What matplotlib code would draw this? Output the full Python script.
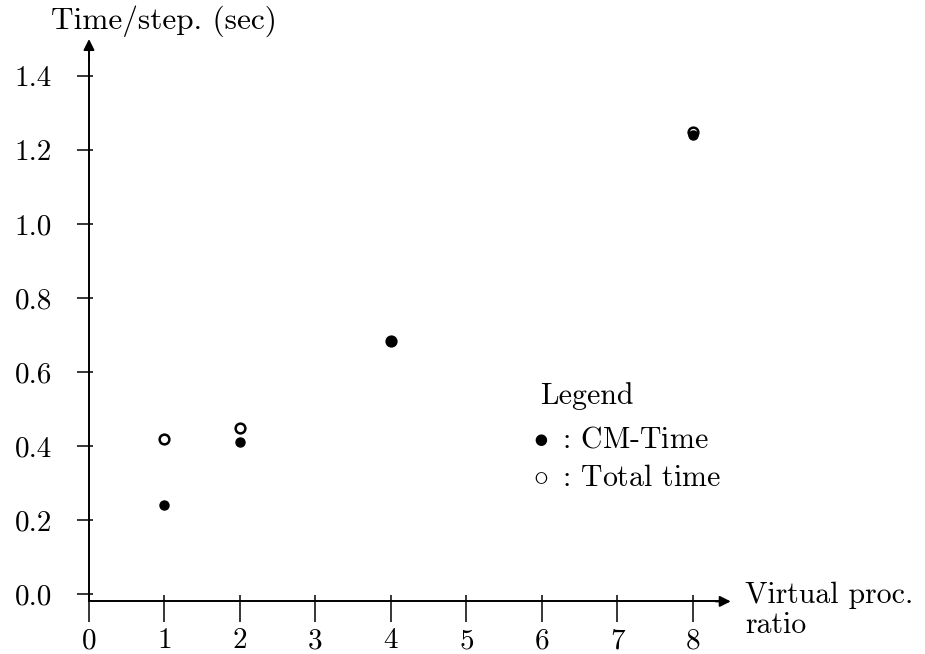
import matplotlib
matplotlib.use("Agg")
import matplotlib.pyplot as plt
from matplotlib.ticker import FixedLocator

plt.rcParams['font.family'] = ['cmr10', 'DejaVu Serif']
plt.rcParams['mathtext.fontset'] = 'cm'
plt.rcParams['axes.unicode_minus'] = False
plt.rcParams['axes.formatter.use_mathtext'] = True

# data
ratio_cm = [1, 2, 4, 8]
cm_time = [0.24, 0.41, 0.685, 1.24]
ratio_total = [1, 2, 4, 8]
total_time = [0.42, 0.45, 0.685, 1.25]
x_ticks = [0, 1, 2, 3, 4, 5, 6, 7, 8]
y_ticks = [0.0, 0.2, 0.4, 0.6, 0.8, 1.0, 1.2, 1.4]
y_ticklabels = ["0.0", "0.2", "0.4", "0.6", "0.8", "1.0", "1.2", "1.4"]

FS = 21

fig = plt.figure(figsize=(9.25, 6.54), dpi=100)
ax = fig.add_axes([0.08805, 0.06346, 0.7101, 0.8882])
ax.set_xlim(-0.1, 8.6)
ax.set_ylim(-0.05, 1.52)

for s in ['top', 'right']:
    ax.spines[s].set_visible(False)
ax.spines['left'].set_position(('data', 0))
ax.spines['bottom'].set_position(('data', -0.02))
ax.spines['left'].set_bounds(-0.02, 1.47)
ax.spines['bottom'].set_bounds(0, 8.35)
for s in ['left', 'bottom']:
    ax.spines[s].set_linewidth(1.4)

# arrow heads
ax.annotate('', xy=(8.5, -0.02), xytext=(8.3, -0.02),
            arrowprops=dict(arrowstyle='-|>', color='black', lw=1.4,
                            mutation_scale=16, shrinkA=0, shrinkB=0))
ax.annotate('', xy=(0, 1.50), xytext=(0, 1.44),
            arrowprops=dict(arrowstyle='-|>', color='black', lw=1.4,
                            mutation_scale=16, shrinkA=0, shrinkB=0))

ax.set_xticks(x_ticks)
ax.set_xticklabels([str(v) for v in x_ticks])
ax.xaxis.set_minor_locator(FixedLocator(x_ticks))
ax.xaxis.remove_overlapping_locs = False
ax.tick_params(axis='x', which='major', direction='out', length=15, width=1.1,
               labelsize=FS, pad=4)
ax.tick_params(axis='x', which='minor', direction='in', length=4.5, width=1.1)

ax.set_yticks(y_ticks)
ax.set_yticklabels(y_ticklabels)
ax.yaxis.set_minor_locator(FixedLocator(y_ticks))
ax.yaxis.remove_overlapping_locs = False
ax.tick_params(axis='y', which='major', direction='out', length=8.6, width=1.1,
               labelsize=FS, pad=18)
ax.tick_params(axis='y', which='minor', direction='in', length=3, width=1.1)

ax.plot(ratio_total, total_time, linestyle='none', marker='o', markersize=7,
        markerfacecolor='white', markeredgecolor='black', markeredgewidth=1.8,
        zorder=3)
ax.plot(ratio_cm, cm_time, linestyle='none', marker='o', markersize=6.5,
        markerfacecolor='black', markeredgecolor='black', zorder=4)

fig.text(164 / 925, 1 - 21 / 654, "Time/step. (sec)", fontsize=22.5,
         ha='center', va='center')
fig.text(745 / 925, 1 - 595 / 654, "Virtual proc.", fontsize=FS + 0.5,
         ha='left', va='center')
fig.text(745 / 925, 1 - 625 / 654, "ratio", fontsize=FS + 0.5,
         ha='left', va='center')

fig.text(540 / 925, 1 - 396 / 654, "Legend", fontsize=FS + 0.5, ha='left', va='center')
fig.text(533 / 925, 1 - 440 / 654, r"$\bullet$ $\,$: CM-Time", fontsize=FS + 0.5,
         ha='left', va='center')
fig.text(533 / 925, 1 - 478 / 654, r"$\circ$ $\,$: Total time", fontsize=FS + 0.5,
         ha='left', va='center')

fig.savefig("out.png", dpi=100)
